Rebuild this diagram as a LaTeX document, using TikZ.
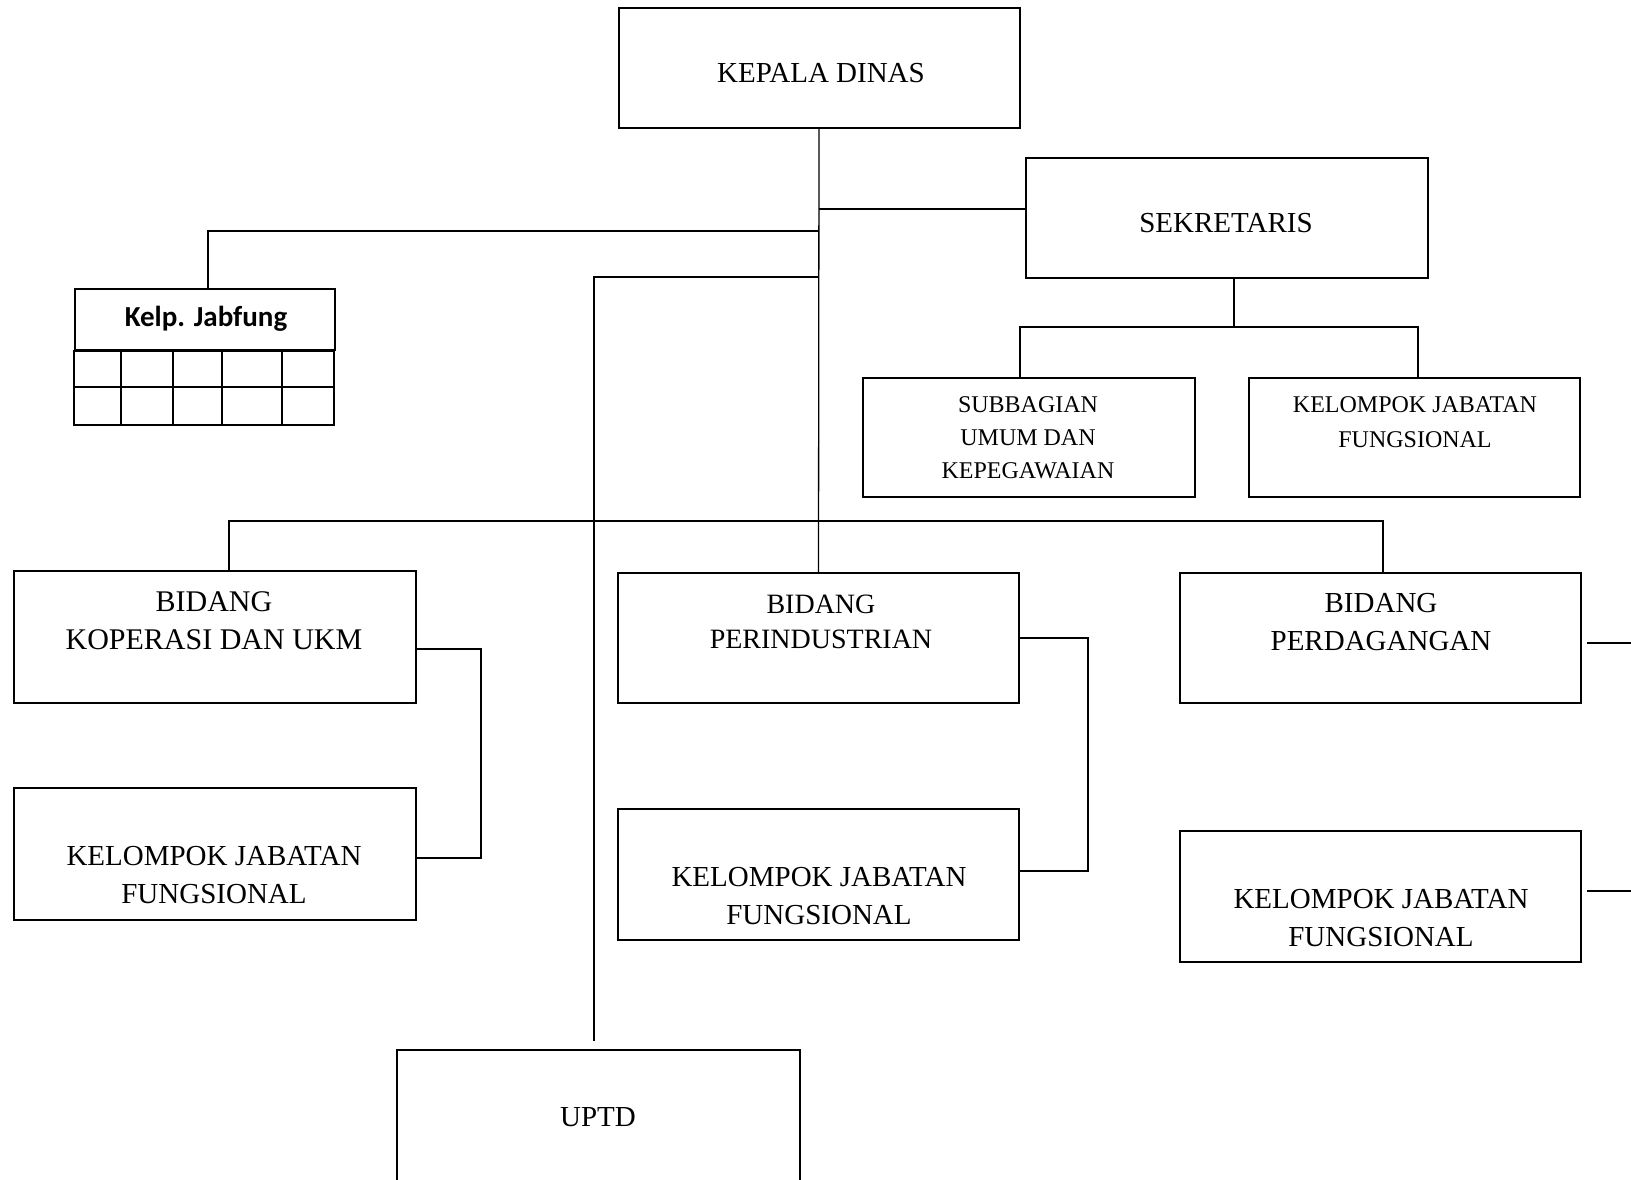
\documentclass[tikz,border=0pt]{standalone}
\usepackage{fontspec}
\setmainfont{Liberation Serif}
\newfontfamily\jabfont{Carlito}
\tikzset{
  orgbox/.style={draw, line width=2pt, inner sep=0pt, minimum width=401pt, minimum height=130pt},
  subbox/.style={orgbox, minimum width=331pt, minimum height=119pt},
  txt/.style={align=center, inner sep=0pt, font=\fontsize{29}{38}\selectfont},
  subtxt/.style={align=center, inner sep=0pt, font=\fontsize{24}{33}\selectfont},
  link/.style={line width=1.3pt},
}
\begin{document}
\begin{tikzpicture}[x=1pt, y=-1pt]
    \useasboundingbox (0,0) rectangle (1631,1180);
    \clip (0,0) rectangle (1631,1180);

    % top level
    \node[orgbox, minimum height=120pt] (KD) at (819,68) {};
    \node[txt] (KDt) at (821,73) {KEPALA DINAS};
    \node[orgbox, minimum width=402pt, minimum height=120pt] (SEK) at (1227,218) {};
    \node[txt] (SEKt) at (1226,223) {SEKRETARIS};

    % sekretariat
    \node[subbox, minimum width=332pt] (SUB) at (1029,437.5) {};
    \node[subtxt] (SUBt) at (1028,438) {SUBBAGIAN\\UMUM DAN\\KEPEGAWAIAN};
    \node[subbox] (KJS) at (1414.5,437.5) {};
    \node[subtxt, font=\fontsize{24}{35}\selectfont] (KJSt) at (1415,422.5) {KELOMPOK JABATAN\\FUNGSIONAL};

    % kelp. jabfung table
    \node[draw, line width=2pt, minimum width=260pt, minimum height=61pt, inner sep=0pt] (JB) at (205,319.5) {};
    \node[font=\jabfont\bfseries\fontsize{29}{34}\selectfont, inner sep=0pt] (JBt) at (206,319) {Kelp. Jabfung};
    \draw[line width=2pt] (JB.south west) rectangle ++(260,74);
    \draw[line width=2pt] (JB.south west) ++(0,36) -- ++(260,0);
    \foreach \cx in {121,173,222,282}
        \draw[line width=2pt] (\cx,350) -- (\cx,424);

    % bidang
    \node[orgbox, minimum width=402pt, minimum height=132pt] (BK) at (215,637) {};
    \node[txt, font=\fontsize{30}{38}\selectfont] (BKt) at (214,621) {BIDANG\\KOPERASI DAN UKM};
    \node[orgbox, minimum width=402pt, minimum height=132pt] (KJ1) at (215,854) {};
    \node[txt] (KJ1t) at (214,875) {KELOMPOK JABATAN\\FUNGSIONAL};

    \node[orgbox] (BP) at (818.5,638) {};
    \node[txt, font=\fontsize{28}{35}\selectfont] (BPt) at (821,621.5) {BIDANG\\PERINDUSTRIAN};
    \node[orgbox, minimum height=131pt] (KJ2) at (818.5,874.5) {};
    \node[txt] (KJ2t) at (819,896) {KELOMPOK JABATAN\\FUNGSIONAL};

    \node[orgbox] (BD) at (1380.5,638) {};
    \node[txt] (BDt) at (1381,622.5) {BIDANG\\PERDAGANGAN};
    \node[orgbox, minimum height=131pt] (KJ3) at (1380.5,896.5) {};
    \node[txt] (KJ3t) at (1381,918) {KELOMPOK JABATAN\\FUNGSIONAL};

    \node[orgbox, minimum width=403pt, minimum height=150pt, anchor=north] (UP) at (598.5,1049) {};
    \node[txt] (UPt) at (598,1117) {UPTD};

    % connectors
    \coordinate (tSek) at (818.5,209);
    \coordinate (tJab) at (818.5,231);
    \coordinate (tUp) at (818.5,277);
    \coordinate (eUp) at (594,1041);
    \coordinate (tBid) at (818.5,521);
    \coordinate (tSub) at (1234,327);
    \coordinate (oD) at (1635,643);
    \coordinate (oK) at (1635,891);

    \draw[link] (KD.south) -- (BP.north);
    \draw[link] (tSek) -- (tSek -| SEK.west);
    \draw[link] (tJab) -| ([xshift=3pt]JB.north);
    \draw[link] (tUp) -| (eUp);
    \draw[link] ([xshift=14pt]BK.north) |- (tBid) -| ([xshift=2.5pt]BD.north);
    \draw[link] ([xshift=7pt]SEK.south) -- (tSub);
    \draw[link] ([xshift=-9pt]SUB.north) |- (tSub) -| ([xshift=3.5pt]KJS.north);
    \draw[link] ([yshift=-12pt]BK.east) -- ++(64,0) |- ([yshift=-4pt]KJ1.east);
    \draw[link] (BP.east) -- ++(68,0) |- ([yshift=3.5pt]KJ2.east);
    \draw[line width=2pt] (oD -| BD.east) ++(5,0) -- (oD);
    \draw[line width=2pt] (oK -| KJ3.east) ++(5,0) -- (oK);
\end{tikzpicture}
\end{document}
